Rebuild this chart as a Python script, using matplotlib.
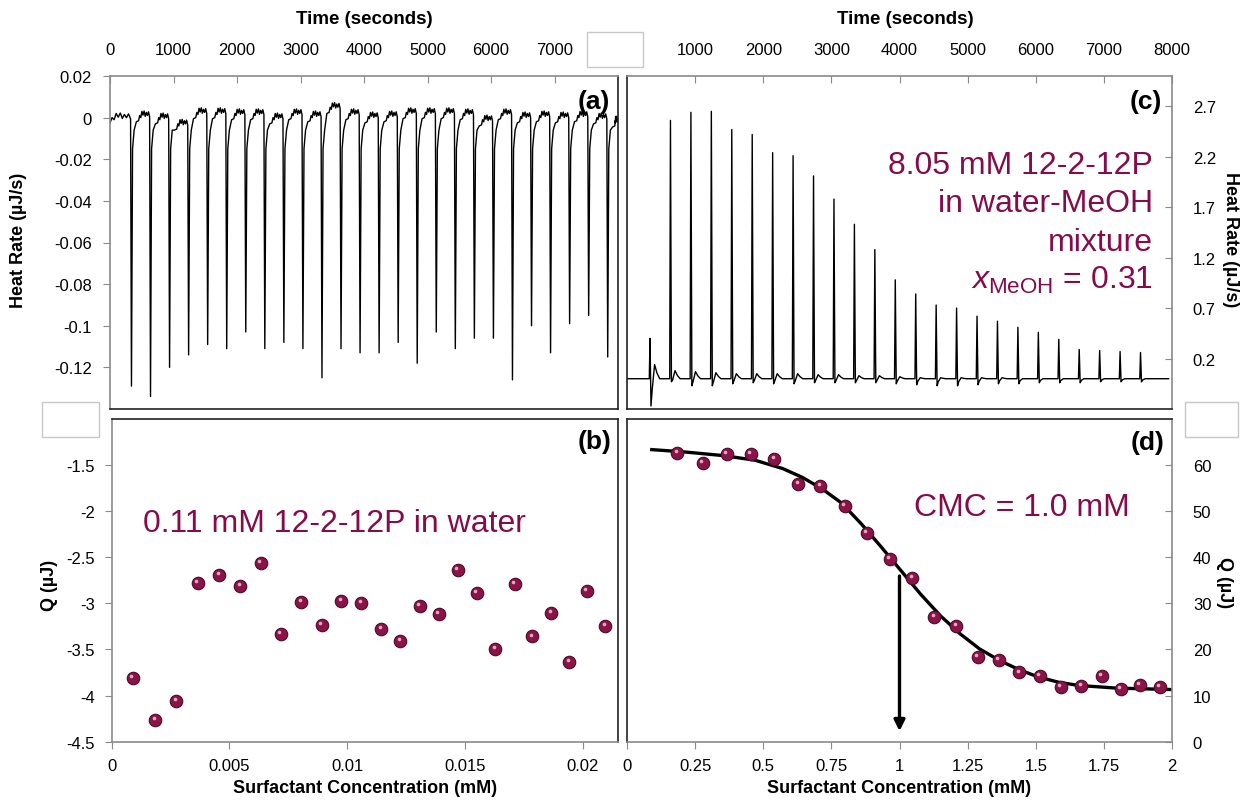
import matplotlib
matplotlib.use("Agg")
import matplotlib.pyplot as plt
from matplotlib.patches import Rectangle
from matplotlib.transforms import offset_copy

plt.rcParams["font.family"] = ["Liberation Sans", "DejaVu Sans"]
plt.rcParams["mathtext.fontset"] = "custom"
plt.rcParams["mathtext.rm"] = "Liberation Sans"
plt.rcParams["mathtext.it"] = "Liberation Sans:italic"

NARROW = ["Liberation Sans Narrow", "Liberation Sans", "DejaVu Sans"]
MAROON = "#850C4A"
GRAY = "#8a8a8a"

# (a) thermogram, surfactant in water: injection times (s) and spike minima (uJ/s)
a_inj = [330, 630, 930, 1230, 1530, 1830, 2130, 2430, 2730, 3030, 3330, 3630, 3930,
         4230, 4530, 4830, 5130, 5430, 5730, 6030, 6330, 6630, 6930, 7230, 7530, 7830]
a_peak = [-0.129, -0.134, -0.120, -0.114, -0.109, -0.111, -0.103, -0.111, -0.108,
          -0.111, -0.125, -0.111, -0.113, -0.113, -0.108, -0.118, -0.103, -0.111,
          -0.106, -0.106, -0.126, -0.100, -0.113, -0.099, -0.095, -0.115]
# baseline level of each plateau (before first injection ... after last)
a_base = [-0.001, 0.0, -0.001, -0.004, 0.0015, 0.0015, 0.001, 0.001, -0.001, 0.001,
          0.0, 0.004, 0.001, -0.0005, 0.0, 0.0015, 0.0015, 0.0015, 0.001, -0.002,
          0.001, -0.0005, 0.0, -0.0005, 0.0, -0.001, -0.0025]
# small ripple seen on each plateau
ripple = [-0.0015, 0.001, 0.0, 0.003, 0.0012, 0.0032, 0.0006, 0.0025, 0.001, 0.0028, 0.0004]

# (b) integrated heats, water
b_conc = [0.000904, 0.001853, 0.002745, 0.003665, 0.00457, 0.00546, 0.00634, 0.00719,
          0.00805, 0.00893, 0.00975, 0.0106, 0.01145, 0.01225, 0.01309, 0.01389,
          0.0147, 0.01551, 0.01629, 0.01713, 0.01786, 0.01867, 0.01943, 0.02018, 0.02096]
b_q = [-3.81, -4.26, -4.06, -2.78, -2.69, -2.81, -2.56, -3.33, -2.99, -3.24, -2.97,
       -3.00, -3.28, -3.41, -3.03, -3.12, -2.64, -2.89, -3.50, -2.79, -3.36, -3.10,
       -3.64, -2.87, -3.25]

# (c) thermogram, water-MeOH mixture
c_inj = [330, 630, 930, 1230, 1530, 1830, 2130, 2430, 2730, 3030, 3330, 3630, 3930,
         4230, 4530, 4830, 5130, 5430, 5730, 6030, 6330, 6630, 6930, 7230, 7530]
c_peak = [0.40, 2.56, 2.64, 2.65, 2.47, 2.42, 2.24, 2.21, 2.01, 1.78, 1.53, 1.28, 0.98,
          0.84, 0.73, 0.70, 0.62, 0.57, 0.51, 0.46, 0.39, 0.29, 0.28, 0.27, 0.26]
c_dip = [-0.27, -0.03, -0.07, -0.07, -0.05, -0.04, -0.05, -0.05, -0.04, -0.04, -0.04,
         -0.04, -0.05, -0.06, -0.07, -0.07, -0.06, -0.05, -0.05, -0.04, -0.04, -0.04,
         -0.03, -0.03, -0.03]
c_bump = [0.14, 0.08, 0.07, 0.06, 0.05, 0.05, 0.05, 0.05, 0.04, 0.04, 0.03, 0.03, 0.02,
          0.01, 0.01, 0.01, 0.01, 0.01, 0.0, 0.0, 0.0, 0.0, 0.0, 0.0, 0.0]

# (d) integrated heats, mixture, with sigmoidal fit
d_conc = [0.185, 0.278, 0.366, 0.454, 0.541, 0.629, 0.710, 0.800, 0.881, 0.965, 1.047,
          1.128, 1.209, 1.287, 1.365, 1.440, 1.514, 1.591, 1.667, 1.743, 1.813, 1.881, 1.955]
d_q = [62.5, 60.4, 62.3, 62.3, 61.2, 55.8, 55.5, 51.0, 45.2, 39.6, 35.4, 27.0, 25.0,
       18.3, 17.8, 15.0, 14.3, 11.8, 12.1, 14.3, 11.5, 12.2, 11.8]
fit_conc = [0.091, 0.21, 0.354, 0.47, 0.571, 0.643, 0.716, 0.788, 0.86, 0.933, 1.005,
            1.077, 1.15, 1.222, 1.294, 1.367, 1.439, 1.511, 1.583, 1.656, 1.728, 1.8,
            1.873, 2.0]
fit_q = [63.3, 62.8, 62.0, 61.0, 59.2, 57.3, 54.8, 51.7, 47.2, 42.2, 37.1, 32.0, 27.3,
         23.4, 20.1, 17.6, 15.6, 14.0, 12.9, 12.2, 11.9, 11.6, 11.5, 11.3]
cmc = 1.0

# build thermogram polylines
ta, ya = [], []
for k, lvl in enumerate(a_base):
    t_start = 0 if k == 0 else a_inj[k - 1] + 120
    t_end = a_inj[k] - 6 if k < len(a_inj) else 7990
    n = len(ripple) - 1
    for j, r in enumerate(ripple):
        ta.append(t_start + (t_end - t_start) * j / n)
        ya.append(lvl + r)
    if k < len(a_inj):
        t0 = a_inj[k]
        ta += [t0 + 8, t0 + 25, t0 + 50, t0 + 85]
        ya += [a_peak[k], -0.015, -0.006, a_base[k + 1] - 0.002]

tc, yc = [0, 320], [0.0, 0.0]
for t0, h, d, b in zip(c_inj, c_peak, c_dip, c_bump):
    tc += [t0 - 3, t0 + 8, t0 + 22, t0 + 40, t0 + 75, t0 + 110, t0 + 150, t0 + 290]
    yc += [0.0, h, d, d * 0.4, b, b * 0.4, 0.0, 0.0]
tc += [7950]
yc += [0.0]

fig = plt.figure(figsize=(12.42, 8.03), dpi=100)
W, H = 1242.0, 803.0


def box(x0, y0, x1, y1):
    return [x0 / W, 1 - y1 / H, (x1 - x0) / W, (y1 - y0) / H]


ax_a = fig.add_axes(box(110, 77, 618, 410))
ax_b = fig.add_axes(box(111.7, 419.7, 618, 742.7))
ax_c = fig.add_axes(box(627, 77, 1172, 410))
ax_d = fig.add_axes(box(627, 419.7, 1172, 742.7))


def style_spines(ax, gray_sides):
    for side, sp in ax.spines.items():
        sp.set_color(GRAY if side in gray_sides else "#222222")
        sp.set_linewidth(1.2)


# (a)
ax_a.plot(ta, ya, color="black", lw=1.0)
ax_a.set_xlim(0, 8000)
ax_a.set_ylim(-0.14, 0.02)
ax_a.set_xticks([0, 1000, 2000, 3000, 4000, 5000, 6000, 7000])
ax_a.set_yticks([0.02, 0, -0.02, -0.04, -0.06, -0.08, -0.1, -0.12])
ax_a.set_yticklabels(["0.02", "0", "-0.02", "-0.04", "-0.06", "-0.08", "-0.1", "-0.12"])
ax_a.xaxis.tick_top()
ax_a.tick_params(axis="x", direction="in", length=5, color=GRAY, pad=14, labelsize=12)
ax_a.tick_params(axis="y", direction="out", length=5, color=GRAY, pad=8, labelsize=12)
for lab in ax_a.get_xticklabels():
    lab.set_family(NARROW)
style_spines(ax_a, ["top", "left"])
ax_a.text(0.984, 0.926, "(a)", transform=ax_a.transAxes, ha="right", va="center",
          fontsize=19, fontweight="bold")

# (b)
ax_b.plot(b_conc, b_q, "o", ms=9, mfc="#8a1448", mec="#4d0b28", mew=0.8)
hl = offset_copy(ax_b.transData, fig=fig, x=-1.2, y=1.4, units="points")
ax_b.plot(b_conc, b_q, "o", ms=2.6, color="#e5a6c0", mew=0, transform=hl)
ax_b.set_xlim(0, 0.0215)
ax_b.set_ylim(-4.5, -1.0)
ax_b.set_xticks([0, 0.005, 0.01, 0.015, 0.02])
ax_b.set_xticklabels(["0", "0.005", "0.01", "0.015", "0.02"])
ax_b.set_yticks([-4.5, -4, -3.5, -3, -2.5, -2, -1.5])
ax_b.set_yticklabels(["-4.5", "-4", "-3.5", "-3", "-2.5", "-2", "-1.5"])
ax_b.tick_params(direction="out", length=5, color=GRAY, labelsize=12)
ax_b.tick_params(axis="x", pad=7)
ax_b.tick_params(axis="y", pad=7)
style_spines(ax_b, ["bottom", "left"])
ax_b.text(0.00133, -2.219, "0.11 mM 12-2-12P in water", color=MAROON, fontsize=23,
          ha="left", va="baseline")
ax_b.text(0.988, 0.932, "(b)", transform=ax_b.transAxes, ha="right", va="center",
          fontsize=19, fontweight="bold")

# (c)
ax_c.plot(tc, yc, color="black", lw=1.0)
ax_c.set_xlim(0, 8000)
ax_c.set_ylim(-0.3, 3.0)
ax_c.set_xticks([1000, 2000, 3000, 4000, 5000, 6000, 7000, 8000])
ax_c.set_yticks([0.2, 0.7, 1.2, 1.7, 2.2, 2.7])
ax_c.xaxis.tick_top()
ax_c.yaxis.tick_right()
ax_c.tick_params(axis="x", direction="in", length=5, color=GRAY, pad=14, labelsize=12)
ax_c.tick_params(axis="y", direction="in", length=5, color=GRAY, pad=15, labelsize=12)
for lab in ax_c.get_xticklabels():
    lab.set_family(NARROW)
style_spines(ax_c, ["top", "right"])
c_lines = ["8.05 mM 12-2-12P", "in water-MeOH", "mixture", r"$x_{\mathrm{MeOH}}$ = 0.31"]
c_base_y = [2.04, 1.66, 1.28, 0.90]
for txt, yy in zip(c_lines, c_base_y):
    ax_c.text(7722, yy, txt, color=MAROON, fontsize=23, ha="right", va="baseline")
ax_c.text(0.981, 0.926, "(c)", transform=ax_c.transAxes, ha="right", va="center",
          fontsize=19, fontweight="bold")

# (d)
ax_d.plot(fit_conc, fit_q, color="black", lw=2.4, zorder=2)
ax_d.plot(d_conc, d_q, "o", ms=9, mfc="#8a1448", mec="#4d0b28", mew=0.8, zorder=3)
hl_d = offset_copy(ax_d.transData, fig=fig, x=-1.2, y=1.4, units="points")
ax_d.plot(d_conc, d_q, "o", ms=2.6, color="#e5a6c0", mew=0, transform=hl_d, zorder=4)
ax_d.annotate("", xy=(cmc, 2.3), xytext=(cmc, 35.9),
              arrowprops=dict(arrowstyle="-|>", color="black", lw=2.4,
                              mutation_scale=16, shrinkA=0, shrinkB=0))
ax_d.set_xlim(0, 2)
ax_d.set_ylim(0, 70)
ax_d.set_xticks([0, 0.25, 0.5, 0.75, 1, 1.25, 1.5, 1.75, 2])
ax_d.set_xticklabels(["0", "0.25", "0.5", "0.75", "1", "1.25", "1.5", "1.75", "2"])
ax_d.set_yticks([0, 10, 20, 30, 40, 50, 60])
ax_d.yaxis.tick_right()
ax_d.tick_params(axis="x", direction="out", length=5, color=GRAY, pad=7, labelsize=12)
ax_d.tick_params(axis="y", direction="in", length=5, color=GRAY, pad=15, labelsize=12)
style_spines(ax_d, ["bottom", "right"])
ax_d.text(1.844, 49.2, "CMC = 1.0 mM", color=MAROON, fontsize=23, ha="right",
          va="baseline")
ax_d.text(0.987, 0.927, "(d)", transform=ax_d.transAxes, ha="right", va="center",
          fontsize=19, fontweight="bold")

# axis titles
fig.text(364 / W, 1 - 19 / H, "Time (seconds)", ha="center", va="center",
         fontsize=13.5, fontweight="bold", family=NARROW)
fig.text(905 / W, 1 - 19 / H, "Time (seconds)", ha="center", va="center",
         fontsize=13.5, fontweight="bold", family=NARROW)
fig.text(19 / W, 1 - 240 / H, "Heat Rate (µJ/s)", ha="center", va="center",
         rotation=90, fontsize=13, fontweight="bold")
fig.text(49 / W, 1 - 585 / H, "Q (µJ)", ha="center", va="center",
         rotation=90, fontsize=13, fontweight="bold")
fig.text(1231 / W, 1 - 240 / H, "Heat Rate (µJ/s)", ha="center", va="center",
         rotation=270, fontsize=13, fontweight="bold")
fig.text(1225 / W, 1 - 583 / H, "Q (µJ)", ha="center", va="center",
         rotation=270, fontsize=13, fontweight="bold")
fig.text(365 / W, 1 - 789 / H, "Surfactant Concentration (mM)", ha="center",
         va="center", fontsize=13, fontweight="bold")
fig.text(899 / W, 1 - 789 / H, "Surfactant Concentration (mM)", ha="center",
         va="center", fontsize=13, fontweight="bold")

# blank boxes left over in the composite
for x0, y0, x1, y1 in [(587, 33, 643, 68), (42, 403, 99, 438), (1185, 403, 1238, 438)]:
    fig.patches.append(Rectangle((x0 / W, 1 - y1 / H), (x1 - x0) / W, (y1 - y0) / H,
                                 transform=fig.transFigure, facecolor="white",
                                 edgecolor="#c8c8c8", lw=1.0))

fig.savefig("out.png", dpi=100)
